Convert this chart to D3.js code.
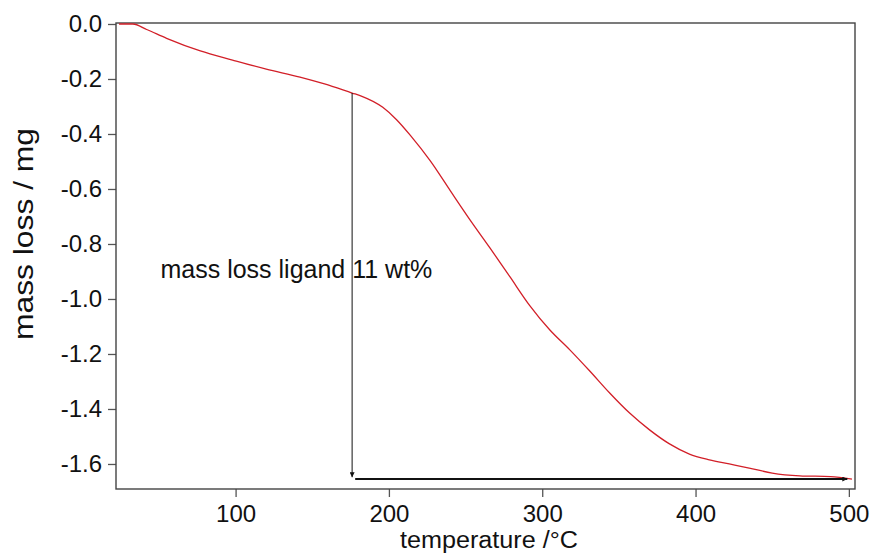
<!DOCTYPE html>
<html>
<head>
<meta charset="utf-8">
<script src="https://cdn.jsdelivr.net/npm/d3@7"></script>
<style>
  body { margin: 0; background: #fff; }
  svg { display: block; font-family: "Liberation Sans", Arial, sans-serif; }
</style>
</head>
<body>
<svg id="chart"></svg>
<script>
// TGA curve
const temperature = [24, 33, 42, 55, 77, 98, 120, 142, 158, 176, 182, 196, 205, 214, 227, 240, 253, 266, 279, 292, 305, 318, 331, 344, 357, 370, 383, 396, 409, 422, 435, 450, 468, 488, 502];
const massLoss = [0, 0, -0.02, -0.052, -0.098, -0.131, -0.164, -0.193, -0.218, -0.251, -0.262, -0.303, -0.348, -0.405, -0.498, -0.606, -0.713, -0.815, -0.920, -1.025, -1.113, -1.185, -1.262, -1.342, -1.415, -1.476, -1.527, -1.564, -1.585, -1.600, -1.615, -1.633, -1.643, -1.646, -1.655];

const xTicks = [100, 200, 300, 400, 500];
const yTicks = [0, -0.2, -0.4, -0.6, -0.8, -1.0, -1.2, -1.4, -1.6];

// annotation arrows (data coords)
const arrowDown = { t: 176, from: -0.251, to: -1.648 };
const arrowRight = { v: -1.655, from: 178, to: 499 };
const note = { t: 51, v: -0.924, text: "mass loss ligand 11 wt%" };

const width = 872, height = 553;
const plotL = 116, plotR = 855, plotT = 23, plotB = 489;

const svg = d3.select("#chart").attr("width", width).attr("height", height);

const x = d3.scaleLinear().domain([22, 504]).range([plotL, plotR]);
const y = d3.scaleLinear().domain([0.0036, -1.691]).range([plotT, plotB]);

// axes
const gx = svg.append("g")
  .attr("transform", `translate(0,${plotB})`)
  .call(d3.axisBottom(x).tickValues(xTicks).tickSize(8).tickSizeOuter(0).tickPadding(8));
const gy = svg.append("g")
  .attr("transform", `translate(${plotL},0)`)
  .call(d3.axisLeft(y).tickValues(yTicks).tickSize(8).tickSizeOuter(0).tickPadding(6)
    .tickFormat(d => d.toFixed(1)));

[gx, gy].forEach(g => {
  g.select(".domain").remove();
  g.selectAll(".tick line").attr("stroke", "#555").attr("stroke-width", 1.3);
  g.selectAll(".tick text").attr("fill", "#111").style("font-size", "24px")
    .style("font-family", "'Liberation Sans', Arial, sans-serif");
});

// frame
svg.append("rect")
  .attr("x", plotL).attr("y", plotT)
  .attr("width", plotR - plotL).attr("height", plotB - plotT)
  .attr("fill", "none").attr("stroke", "#444").attr("stroke-width", 1.4);

// curve
const line = d3.line()
  .x((d, i) => x(temperature[i]))
  .y(d => y(d))
  .curve(d3.curveMonotoneX);
svg.append("path")
  .datum(massLoss)
  .attr("d", line)
  .attr("fill", "none")
  .attr("stroke", "#d21f28")
  .attr("stroke-width", 1.3);

// arrow heads
const defs = svg.append("defs");
defs.append("marker")
  .attr("id", "head")
  .attr("viewBox", "0 0 10 10")
  .attr("refX", 10).attr("refY", 5)
  .attr("markerWidth", 7).attr("markerHeight", 5)
  .attr("markerUnits", "userSpaceOnUse")
  .attr("orient", "auto")
  .append("path").attr("d", "M0,0L10,5L0,10Z").attr("fill", "#111");

svg.append("line")
  .attr("x1", x(arrowDown.t)).attr("x2", x(arrowDown.t))
  .attr("y1", y(arrowDown.from)).attr("y2", y(arrowDown.to))
  .attr("stroke", "#111").attr("stroke-width", 1)
  .attr("marker-end", "url(#head)");

svg.append("line")
  .attr("x1", x(arrowRight.from)).attr("x2", x(arrowRight.to))
  .attr("y1", y(arrowRight.v)).attr("y2", y(arrowRight.v))
  .attr("stroke", "#111").attr("stroke-width", 2)
  .attr("marker-end", "url(#head)");

svg.append("text")
  .attr("x", x(note.t)).attr("y", y(note.v))
  .attr("fill", "#111").style("font-size", "25px")
  .text(note.text);

// axis titles
svg.append("text")
  .attr("x", 489).attr("y", 548)
  .attr("text-anchor", "middle")
  .attr("fill", "#111").style("font-size", "23px")
  .attr("textLength", 178).attr("lengthAdjust", "spacingAndGlyphs")
  .text("temperature /°C");

svg.append("text")
  .attr("transform", "translate(33,234) rotate(-90)")
  .attr("text-anchor", "middle")
  .attr("fill", "#111").style("font-size", "28px")
  .attr("textLength", 212).attr("lengthAdjust", "spacingAndGlyphs")
  .text("mass loss / mg");
</script>
</body>
</html>
